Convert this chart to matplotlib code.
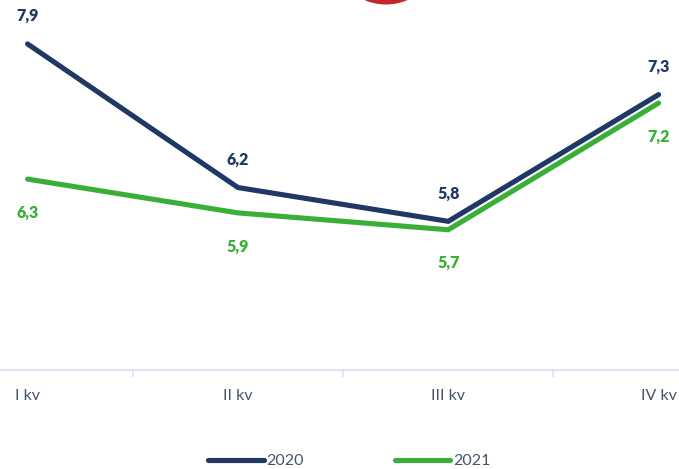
import matplotlib.pyplot as plt
from matplotlib.patches import Circle

# Data
quarters = ["I kv", "II kv", "III kv", "IV kv"]
years = ["2020", "2021"]
values_2020 = [7.9, 6.2, 5.8, 7.3]
values_2021 = [6.3, 5.9, 5.7, 7.2]

C_2020 = "#203864"
C_2021 = "#3aaf37"
C_TEXT = "#44546a"
C_AXIS = "#d9e0f0"
C_RED = "#c3262c"

plt.rcParams["font.family"] = ["Lato", "DejaVu Sans"]

fig = plt.figure(figsize=(6.79, 4.69), dpi=100)
# plot area: top of image down to the axis line at y=370 px
ax = fig.add_axes([0, 99 / 469, 1, 370 / 469])

x = list(range(len(quarters)))
l1, = ax.plot(x, values_2020, color=C_2020, lw=3.7, solid_capstyle="round",
              solid_joinstyle="miter", label=years[0], zorder=3)
l2, = ax.plot(x, values_2021, color=C_2021, lw=3.7, solid_capstyle="round",
              solid_joinstyle="miter", label=years[1], zorder=2)

# value labels: 2020 above, 2021 below
for xi, v in zip(x, values_2020):
    ax.annotate(f"{v:.1f}".replace(".", ","), (xi, v), xytext=(0, 20),
                textcoords="offset points", ha="center", va="center",
                fontsize=11.5, fontweight="heavy", color=C_2020)
for xi, v in zip(x, values_2021):
    ax.annotate(f"{v:.1f}".replace(".", ","), (xi, v), xytext=(0, -24),
                textcoords="offset points", ha="center", va="center",
                fontsize=11.5, fontweight="heavy", color=C_2021)

ax.set_xlim(-0.131, 3.097)
ax.set_ylim(4.04, 8.42)
ax.set_xticks(x)
ax.set_xticklabels(quarters)
ax.set_xticks([0.5, 1.5, 2.5], minor=True)
ax.tick_params(axis="x", which="major", length=0, pad=13.5, labelsize=11.5,
               labelcolor=C_TEXT)
ax.tick_params(axis="x", which="minor", length=5, width=1.1, color=C_AXIS)
ax.set_yticks([])
for side in ["top", "left", "right"]:
    ax.spines[side].set_visible(False)
ax.spines["bottom"].set_color(C_AXIS)
ax.spines["bottom"].set_linewidth(1.3)
ax.patch.set_alpha(0)

fig.legend(handles=[l1, l2], loc="center", bbox_to_anchor=(349 / 679, 8 / 469),
           ncol=2, frameon=False, fontsize=11.5, handlelength=3.5,
           handletextpad=0.15, columnspacing=5.7, borderpad=0,
           labelcolor=C_TEXT)

# red badge peeking in at the top edge
fig.add_artist(Circle((3.86, 4.69 + 0.50), 0.545, transform=fig.dpi_scale_trans,
                      facecolor=C_RED, edgecolor="none", clip_on=False))

fig.savefig("out.png", dpi=100)
